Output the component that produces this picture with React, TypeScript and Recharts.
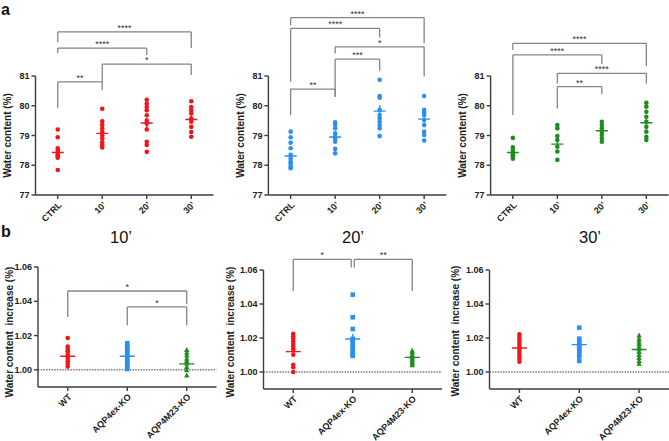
import React from 'react';
import { ScatterChart, Scatter, XAxis, YAxis, ReferenceLine } from 'recharts';

const FONT = '"Liberation Sans", Arial, Helvetica, sans-serif';
const RED = '#f2161c';
const BLUE = '#2b8ff2';
const GREEN = '#1e8c1e';
const BRACKET = '#858585';
const AXIS = '#3c3c3c';

// ---------- categories & ticks ----------
const aCats = ['CTRL', '10\u2019', '20\u2019', '30\u2019'];
const bCats = ['WT', 'AQP4ex-KO', 'AQP4M23-KO'];
const aTicks = [77, 78, 79, 80, 81];
const bTicks = [1.0, 1.02, 1.04, 1.06];
const bTitles = ['10\u2019', '20\u2019', '30\u2019'];

// ---------- panel a: water content (%) ----------
const a1Ctrl = [79.2, 78.94, 78.57, 78.49, 78.42, 78.36, 78.3, 78.25, 77.84];
const a1T10 = [79.9, 79.48, 79.35, 79.23, 79.12, 79.0, 78.9, 78.77, 78.68, 78.6];
const a1T20 = [80.2, 80.07, 79.96, 79.85, 79.68, 79.5, 79.4, 79.2, 78.79, 78.68, 78.45];
const a1T30 = [80.15, 79.96, 79.85, 79.74, 79.57, 79.46, 79.29, 79.12, 78.96];
const a1Mean = [78.43, 79.07, 79.42, 79.54];
const a1Sem = [0.12, 0.13, 0.18, 0.13];

const a2Ctrl = [79.13, 78.94, 78.76, 78.57, 78.35, 78.23, 78.12, 78.06, 77.97, 77.9];
const a2T10 = [79.44, 79.35, 79.24, 79.07, 78.96, 78.9, 78.79, 78.55, 78.4];
const a2T20 = [80.87, 80.33, 80.27, 79.86, 79.69, 79.58, 79.46, 79.35, 79.24, 78.98];
const a2T30 = [80.33, 79.86, 79.78, 79.69, 79.52, 79.35, 79.13, 79.02, 78.83];
const a2Mean = [78.31, 78.95, 79.82, 79.55];
const a2Sem = [0.11, 0.11, 0.2, 0.13];

const a3Ctrl = [78.92, 78.6, 78.5, 78.39, 78.33, 78.28, 78.22];
const a3T10 = [79.35, 79.24, 78.98, 78.85, 78.62, 78.46, 78.18];
const a3T20 = [79.46, 79.35, 79.24, 79.13, 79.02, 78.9, 78.79];
const a3T30 = [80.1, 79.97, 79.8, 79.63, 79.46, 79.29, 79.13, 78.96, 78.85];
const a3Mean = [78.43, 78.71, 79.16, 79.43];
const a3Sem = [0.08, 0.13, 0.09, 0.15];

// ---------- panel b: water content increase ----------
const b1WT = [1.0186, 1.0136, 1.0122, 1.0108, 1.0093, 1.0077, 1.0064, 1.005, 1.0035, 1.0019];
const b1Ex = [1.0155, 1.014, 1.0125, 1.011, 1.0095, 1.008, 1.0065, 1.005, 1.0035, 1.002, 1.0005];
const b1M23 = [1.0116, 1.01, 1.0085, 1.0066, 1.0052, 1.0037, 1.0017, 0.9998, 0.9967];
const b1Mean = [1.0079, 1.0079, 1.0035];
const b1Sem = [0.0015, 0.0015, 0.0016];

const b2WT = [1.0224, 1.021, 1.0196, 1.018, 1.0165, 1.015, 1.0134, 1.0102, 1.0043, 1.0028, 1.0];
const b2Ex = [1.0455, 1.0322, 1.0253, 1.0195, 1.018, 1.0165, 1.015, 1.0135, 1.012, 1.0105, 1.0095];
const b2M23 = [1.0126, 1.0115, 1.01, 1.009, 1.008, 1.007, 1.006, 1.005, 1.004];
const b2Mean = [1.012, 1.0194, 1.0086];
const b2Sem = [0.0022, 0.003, 0.001];

const b3WT = [1.0222, 1.0206, 1.019, 1.0175, 1.0159, 1.0143, 1.0127, 1.0112, 1.0096, 1.008, 1.0061];
const b3Ex = [1.0261, 1.0196, 1.0182, 1.0168, 1.0153, 1.0138, 1.0125, 1.011, 1.0092, 1.0065];
const b3M23 = [1.0216, 1.0196, 1.018, 1.0165, 1.0151, 1.0135, 1.0118, 1.01, 1.0083, 1.0065, 1.0049];
const b3Mean = [1.0141, 1.0161, 1.0132];
const b3Sem = [0.0016, 0.0018, 0.0016];

// ---------- significance brackets: [from, to, level, leftEnd, rightEnd, label] ----------
const a1Brackets = [
  [0, 3, 82.48, 82.14, 81.94, '****'],
  [0, 2, 81.94, 81.77, 81.71, '****'],
  [1, 3, 81.4, 80.8, 81.03, '*'],
  [0, 1, 80.8, 79.92, 80.53, '**'],
];
const a2Brackets = [
  [0, 3, 82.96, 82.71, 82.1, '****'],
  [0, 2, 82.6, 80.81, 82.29, '****'],
  [1, 3, 81.98, 81.76, 80.98, '*'],
  [1, 2, 81.57, 80.3, 81.18, '***'],
  [0, 1, 80.56, 79.69, 80.3, '**'],
];
const a3Brackets = [
  [0, 3, 82.1, 81.87, 81.34, '****'],
  [0, 2, 81.71, 79.69, 81.4, '****'],
  [1, 3, 81.09, 80.75, 80.75, '****'],
  [1, 2, 80.64, 79.91, 80.39, '**'],
];
const b1Brackets = [
  [0, 2, 1.046, 1.0309, 1.0384, '*'],
  [1, 2, 1.0367, 1.026, 1.026, '*'],
];
const b2Brackets = [
  [0, 0.975, 1.0663, 1.0476, 1.0614, '*'],
  [1.025, 2, 1.0663, 1.0614, 1.0476, '**'],
];
const b3Brackets: any[] = [];

const W = 669;
const H = 441;

type Plot = [number, number, number, number];
const PLOT_A1: Plot = [35.5, 76, 213.5, 195];
const PLOT_A2: Plot = [268.4, 76, 446.4, 195];
const PLOT_A3: Plot = [490.6, 76, 668.6, 195];
const PLOT_B1: Plot = [38, 267, 216.5, 387];
const PLOT_B2: Plot = [263.5, 270, 442, 389];
const PLOT_B3: Plot = [489.5, 270, 669, 389];

type Group = { values: number[]; color: string; shape: 'circle' | 'square' | 'triangle' };

function pointShape(color: string, shape: string) {
  return (p: any) => {
    const { cx, cy } = p;
    if (cx == null || cy == null) return <g />;
    if (shape === 'square') {
      return <rect x={cx - 2.3} y={cy - 2.3} width={4.6} height={4.6} fill={color} />;
    }
    if (shape === 'triangle') {
      return (
        <polygon
          points={`${cx},${cy - 2.9} ${cx - 2.7},${cy + 2.1} ${cx + 2.7},${cy + 2.1}`}
          fill={color}
        />
      );
    }
    return <circle cx={cx} cy={cy} r={2.3} fill={color} />;
  };
}

function meanShape(color: string, half: number) {
  return (p: any) => {
    const { cx, cy } = p;
    if (cx == null || cy == null) return <g />;
    return <line x1={cx - half} x2={cx + half} y1={cy} y2={cy} stroke={color} strokeWidth={1.4} />;
  };
}

function Panel(props: {
  plot: Plot;
  cats: string[];
  yDomain: [number, number];
  yTicks: number[];
  yFmt: (v: number) => string;
  groups: Group[];
  means: number[];
  sems: number[];
  brackets: any[];
  refY?: number;
  half: number;
}) {
  const { plot, cats, yDomain, yTicks, yFmt, groups, means, sems, brackets, refY, half } = props;
  const [pl, pt, pr, pb] = plot;
  const yAxisW = 30;
  const xAxisH = 30;
  const margin = {
    left: pl - yAxisW,
    top: pt,
    right: Math.max(0, W - pr),
    bottom: H - pb - xAxisH,
  };
  const n = cats.length;
  const xt = cats.map((_, i) => i);
  const lines: any[] = [];
  brackets.forEach((b, i) => {
    const [a, c, lvl, le, re, lab] = b;
    lines.push(
      <ReferenceLine
        key={`l${i}`}
        segment={[{ x: a, y: le }, { x: a, y: lvl }]}
        stroke={BRACKET}
        strokeWidth={1.3}
        ifOverflow="visible"
      />
    );
    lines.push(
      <ReferenceLine
        key={`h${i}`}
        segment={[{ x: a, y: lvl }, { x: c, y: lvl }]}
        stroke={BRACKET}
        strokeWidth={1.3}
        ifOverflow="visible"
        label={{ value: lab, position: 'top', fontSize: 9, fill: '#333', offset: 1, fontFamily: FONT }}
      />
    );
    lines.push(
      <ReferenceLine
        key={`r${i}`}
        segment={[{ x: c, y: lvl }, { x: c, y: re }]}
        stroke={BRACKET}
        strokeWidth={1.3}
        ifOverflow="visible"
      />
    );
  });
  const semLines = groups.map((g, gi) => (
    <ReferenceLine
      key={`sem${gi}`}
      segment={[
        { x: gi, y: means[gi] - sems[gi] },
        { x: gi, y: means[gi] + sems[gi] },
      ]}
      stroke={g.color}
      strokeWidth={1.4}
      ifOverflow="visible"
    />
  ));

  return (
    <div style={{ position: 'absolute', left: 0, top: 0, width: W, height: H }}>
      <ScatterChart width={W} height={H} margin={margin}>
        <XAxis
          dataKey="x"
          type="number"
          domain={[-0.5, n - 0.5]}
          ticks={xt}
          interval={0}
          allowDataOverflow
          height={xAxisH}
          tickFormatter={(v: number) => cats[v]}
          angle={-45}
          textAnchor="end"
          tick={{ fontSize: 9, fontWeight: 'bold', fill: '#222', fontFamily: FONT }}
          tickSize={4}
          tickMargin={2}
          stroke={AXIS}
          strokeWidth={1.4}
        />
        <YAxis
          dataKey="y"
          type="number"
          domain={yDomain}
          ticks={yTicks}
          interval={0}
          allowDataOverflow
          width={yAxisW}
          tickFormatter={yFmt}
          tickSize={4}
          stroke={AXIS}
          strokeWidth={1.4}
          tick={{ fontSize: 9, fontWeight: 'bold', fill: '#222', fontFamily: FONT }}
        />
        {refY !== undefined && (
          <ReferenceLine y={refY} stroke="#333" strokeWidth={1} strokeDasharray="1.5 1.2" />
        )}
        {lines}
        {groups.map((g, gi) => (
          <Scatter
            key={`p${gi}`}
            data={g.values.map((v) => ({ x: gi, y: v }))}
            shape={pointShape(g.color, g.shape)}
            isAnimationActive={false}
          />
        ))}
        {groups.map((g, gi) => (
          <Scatter
            key={`m${gi}`}
            data={[{ x: gi, y: means[gi] }]}
            shape={meanShape(g.color, half)}
            isAnimationActive={false}
          />
        ))}
        {semLines}
      </ScatterChart>
    </div>
  );
}

const fmtA = (v: number) => String(v);
const fmtB = (v: number) => v.toFixed(2);

export default function App() {
  return (
    <div
      style={{
        position: 'absolute',
        left: 0,
        top: 0,
        width: W,
        height: H,
        background: '#fff',
        overflow: 'hidden',
        fontFamily: FONT,
      }}
    >
      <Panel
        plot={PLOT_A1}
        cats={aCats}
        yDomain={[77, 81]}
        yTicks={aTicks}
        yFmt={fmtA}
        groups={[a1Ctrl, a1T10, a1T20, a1T30].map((v) => ({ values: v, color: RED, shape: 'circle' as const }))}
        means={a1Mean}
        sems={a1Sem}
        brackets={a1Brackets}
        half={6}
      />
      <Panel
        plot={PLOT_A2}
        cats={aCats}
        yDomain={[77, 81]}
        yTicks={aTicks}
        yFmt={fmtA}
        groups={[a2Ctrl, a2T10, a2T20, a2T30].map((v) => ({ values: v, color: BLUE, shape: 'circle' as const }))}
        means={a2Mean}
        sems={a2Sem}
        brackets={a2Brackets}
        half={6}
      />
      <Panel
        plot={PLOT_A3}
        cats={aCats}
        yDomain={[77, 81]}
        yTicks={aTicks}
        yFmt={fmtA}
        groups={[a3Ctrl, a3T10, a3T20, a3T30].map((v) => ({ values: v, color: GREEN, shape: 'circle' as const }))}
        means={a3Mean}
        sems={a3Sem}
        brackets={a3Brackets}
        half={6}
      />
      <Panel
        plot={PLOT_B1}
        cats={bCats}
        yDomain={[0.99, 1.06]}
        yTicks={bTicks}
        yFmt={fmtB}
        groups={[
          { values: b1WT, color: RED, shape: 'circle' },
          { values: b1Ex, color: BLUE, shape: 'square' },
          { values: b1M23, color: GREEN, shape: 'triangle' },
        ]}
        means={b1Mean}
        sems={b1Sem}
        brackets={b1Brackets}
        refY={1}
        half={7.5}
      />
      <Panel
        plot={PLOT_B2}
        cats={bCats}
        yDomain={[0.99, 1.06]}
        yTicks={bTicks}
        yFmt={fmtB}
        groups={[
          { values: b2WT, color: RED, shape: 'circle' },
          { values: b2Ex, color: BLUE, shape: 'square' },
          { values: b2M23, color: GREEN, shape: 'triangle' },
        ]}
        means={b2Mean}
        sems={b2Sem}
        brackets={b2Brackets}
        refY={1}
        half={7.5}
      />
      <Panel
        plot={PLOT_B3}
        cats={bCats}
        yDomain={[0.99, 1.06]}
        yTicks={bTicks}
        yFmt={fmtB}
        groups={[
          { values: b3WT, color: RED, shape: 'circle' },
          { values: b3Ex, color: BLUE, shape: 'square' },
          { values: b3M23, color: GREEN, shape: 'triangle' },
        ]}
        means={b3Mean}
        sems={b3Sem}
        brackets={b3Brackets}
        refY={1}
        half={7.5}
      />
      <svg width={W} height={H} style={{ position: 'absolute', left: 0, top: 0, pointerEvents: 'none' }}>
        <text x={1} y={15} fontSize={16} fontWeight="bold" fill="#111" fontFamily={FONT}>a</text>
        <text x={1} y={237} fontSize={16} fontWeight="bold" fill="#111" fontFamily={FONT}>b</text>
        {[121, 353, 590].map((cx, i) => (
          <text key={i} x={cx} y={243} fontSize={16.5} fill="#111" textAnchor="middle" fontFamily={FONT}>
            {bTitles[i]}
          </text>
        ))}
        {[7.5, 240, 462].map((cx, i) => (
          <text
            key={`ya${i}`}
            x={cx}
            y={135.5}
            fontSize={10}
            fontWeight="bold"
            fill="#222"
            textAnchor="middle"
            dominantBaseline="central"
            transform={`rotate(-90 ${cx} 135.5)`}
            fontFamily={FONT}
          >
            Water content (%)
          </text>
        ))}
        {[
          [9, 332],
          [230, 332],
          [455, 331],
        ].map(([cx, cy], i) => (
          <text
            key={`yb${i}`}
            x={cx}
            y={cy}
            fontSize={10}
            fontWeight="bold"
            fill="#222"
            textAnchor="middle"
            dominantBaseline="central"
            transform={`rotate(-90 ${cx} ${cy})`}
            fontFamily={FONT}
            style={{ whiteSpace: 'pre' }}
          >
            {'Water content  increase (%)'}
          </text>
        ))}
      </svg>
    </div>
  );
}
